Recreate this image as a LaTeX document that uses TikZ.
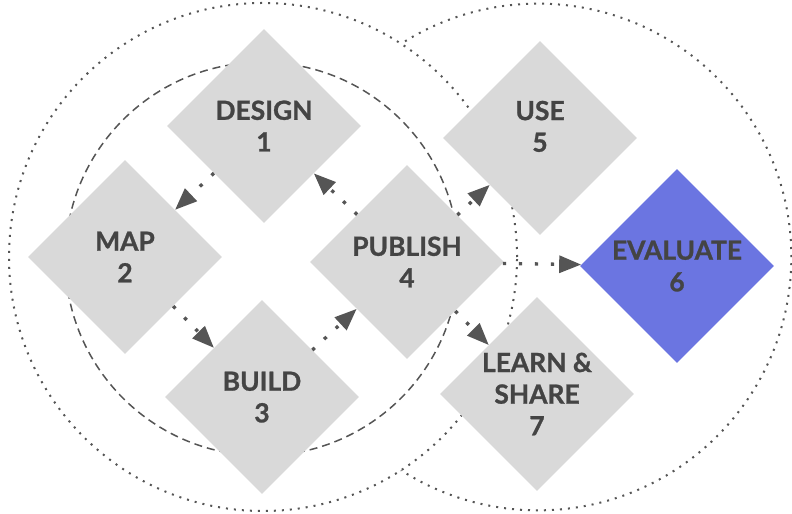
\documentclass[tikz,border=0pt]{standalone}
\usepackage{fontspec}
\setmainfont{Lato}[BoldFeatures={FakeBold=1}]
\usetikzlibrary{shapes.geometric, arrows.meta}
\definecolor{stepgray}{HTML}{D9D9D9}
\definecolor{stepblue}{HTML}{6B75E1}
\definecolor{inkgray}{HTML}{444444}
\definecolor{linegray}{HTML}{555555}

\begin{document}
\begin{tikzpicture}[x=0.03cm, y=-0.03cm,
  stage/.style={diamond, aspect=1, inner sep=0pt, minimum size=5.82cm, align=center, text=inkgray, font=\bfseries\fontsize{22.5}{27}\selectfont},
  flow/.style={-{Triangle[length=0.66cm, width=0.51cm]}, draw=linegray, line width=0.1cm, dash pattern=on 0.1cm off 0.38cm},
  ring/.style={draw=linegray, line width=0.06cm, dash pattern=on 0.06cm off 0.18cm},
  core/.style={draw=linegray, line width=0.045cm, dash pattern=on 0.24cm off 0.15cm}]

\useasboundingbox (0,0) rectangle (792,514);

% right ring only shows outside the left one
\draw[ring] (538,257) circle[radius=7.6cm];
\fill[white] (263,257) circle[radius=7.62cm];
\draw[ring] (263,257) circle[radius=7.62cm];
\draw[core] (262,259) circle[radius=5.9cm];

\foreach \name/\x/\y/\col/\lift/\txt in {design/264/126/stepgray/0/{DESIGN\\1}, map/125/257/stepgray/0/{MAP\\2},
    build/262/397/stepgray/0/{BUILD\\3}, publish/407/262/stepgray/0/{PUBLISH\\4}, use/540/138/stepgray/20/{USE\\5},
    evaluate/677/266/stepblue/0/{EVALUATE\\6}, learn/537/394/stepgray/0/{LEARN \&\\SHARE\\7}}
  \node[stage, fill=\col, text depth=\lift pt] (\name) at (\x,\y) {\txt};

\draw[flow] (design) -- (map);
\draw[flow] (map) -- (build);
\draw[flow] (build) -- (publish);
\draw[flow] (publish) -- (design);
\draw[flow] (publish) -- (use);
\draw[flow] (publish) -- (evaluate);
\draw[flow] (publish) -- (learn);

\end{tikzpicture}
\end{document}
